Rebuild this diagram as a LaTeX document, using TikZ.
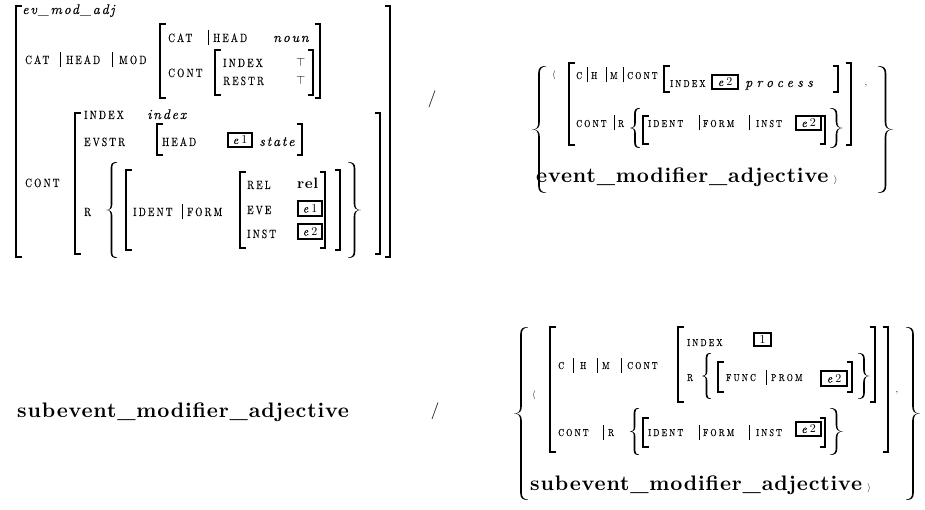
\documentclass[tikz,border=0pt]{standalone}
\usepackage{fontspec}
\newfontfamily\avmsc{lmroman10-regular.otf}[FakeStretch=0.78, LetterSpace=18, FakeBold=0.3]
\newfontfamily\avmscw{lmroman10-regular.otf}[FakeStretch=0.8, LetterSpace=22, FakeBold=0.3]
\newfontfamily\avmit{lmroman10-italic.otf}[LetterSpace=12, FakeBold=0.2]
\newfontfamily\avmitw{lmroman10-italic.otf}[LetterSpace=30, FakeBold=0.2]
\newfontfamily\avmbf{lmroman10-bold.otf}[LetterSpace=4]
\newfontfamily\avmrm{lmroman10-regular.otf}

% square brackets: x, top, bottom
\newcommand\lbk[3]{\draw[brk] (#1+5.5,#2) -- (#1,#2) -- (#1,#3) -- (#1+5.5,#3);}
\newcommand\rbk[3]{\draw[brk] (#1-5.5,#2) -- (#1,#2) -- (#1,#3) -- (#1-5.5,#3);}
% path separator bar: x, baseline
\newcommand\pbar[2]{\draw[pbar] (#1,#2+3.5) -- (#1,#2-11.5);}
% filled curly brace in a local box of width #1 and height #2 (y grows downward)
\newcommand\bracefill[2]{%
  \fill (#1,0) .. controls (0.62*#1,0) and (0.5*#1-0.8,0.12*#1) .. (0.5*#1-0.8,0.5*#1)
    -- (0.5*#1-0.8,#2/2-0.5*#1)
    .. controls (0.5*#1-0.8,#2/2-0.12*#1) and (0.3*#1,#2/2) .. (0,#2/2)
    .. controls (0.3*#1,#2/2) and (0.5*#1-0.8,#2/2+0.12*#1) .. (0.5*#1-0.8,#2/2+0.5*#1)
    -- (0.5*#1-0.8,#2-0.5*#1)
    .. controls (0.5*#1-0.8,#2-0.12*#1) and (0.62*#1,#2) .. (#1,#2)
    -- (#1,#2-0.45)
    .. controls (0.72*#1,#2-0.45) and (0.5*#1+0.8,#2-0.2*#1) .. (0.5*#1+0.8,#2-0.5*#1)
    -- (0.5*#1+0.8,#2/2+0.5*#1)
    .. controls (0.5*#1+0.8,#2/2+0.15*#1) and (0.4*#1,#2/2) .. (0.04*#1,#2/2)
    .. controls (0.4*#1,#2/2) and (0.5*#1+0.8,#2/2-0.15*#1) .. (0.5*#1+0.8,#2/2-0.5*#1)
    -- (0.5*#1+0.8,0.5*#1)
    .. controls (0.5*#1+0.8,0.2*#1) and (0.72*#1,0.45) .. (#1,0.45) -- cycle;}
% braces: left x, top, bottom, width
\newcommand\avmlbrace[4]{\pgfmathsetmacro\brH{#3-#2}%
  \begin{scope}[shift={(#1,#2)}]\bracefill{#4}{\brH}\end{scope}}
\newcommand\avmrbrace[4]{\pgfmathsetmacro\brH{#3-#2}%
  \begin{scope}[shift={(#1+#4,#2)},xscale=-1]\bracefill{#4}{\brH}\end{scope}}
% boxed tags
\newcommand\etag[1]{{\avmit e}\hspace{3pt}{\avmrm #1}}

\tikzset{
  brk/.style={line width=1.7pt},
  pbar/.style={line width=0.7pt},
  avmlab/.style={anchor=base west, inner sep=0pt, font=\avmsc\fontsize{12}{12}\selectfont},
  avmlabs/.style={anchor=base west, inner sep=0pt, font=\avmscw\fontsize{10}{10}\selectfont},
  avmtype/.style={anchor=base west, inner sep=0pt, font=\avmit\fontsize{14}{14}\selectfont},
  avmtypew/.style={anchor=base west, inner sep=0pt, font=\avmitw\fontsize{14}{14}\selectfont},
  avmtop/.style={anchor=base west, inner sep=0pt, font=\fontsize{11.5}{11.5}\selectfont},
  avmbold/.style={anchor=base west, inner sep=0pt, font=\avmbf\fontsize{21}{21}\selectfont},
  relbold/.style={anchor=base west, inner sep=0pt, font=\avmbf\fontsize{15}{15}\selectfont},
  angl/.style={inner sep=0pt, font=\fontsize{9.5}{9.5}\selectfont},
  tagbox/.style={draw, line width=1.9pt, inner sep=0pt, minimum width=#1,
    minimum height=14.3pt, font=\fontsize{12}{12}\selectfont},
  slash/.style={inner sep=0pt, font=\avmrm\fontsize{17}{17}\selectfont},
}

\begin{document}
\begin{tikzpicture}[x=1pt,y=-1pt]
\useasboundingbox (0,0) rectangle (925,510);
\fill[white] (0,0) rectangle (925,510);

% ===== ev_mod_adj =====
\lbk{16}{6}{257} \rbk{390}{6}{257}
\node[avmtype] (tl-type) at (22,14) {ev\_mod\_adj};
\node[avmlab] (tl-cat) at (25,64) {CAT}; \pbar{60}{64}
\node[avmlab] (tl-head) at (66,64) {HEAD}; \pbar{112}{64}
\node[avmlab] (tl-mod) at (119,64) {MOD};
\lbk{160}{24}{98} \rbk{320}{24}{98}
\node[avmlab] (m-cat) at (168,42) {CAT}; \pbar{208}{42}
\node[avmlab] (m-head) at (213,42) {HEAD};
\node[avmtype] (m-noun) at (273,42) {noun};
\node[avmlab] (m-cont) at (168,77) {CONT};
\lbk{215}{50}{95} \rbk{313}{50}{95}
\node[avmlab] (m-index) at (223,67) {INDEX};
\node[avmtop] (m-top1) at (296,67) {$\top$};
\node[avmlab] (m-restr) at (223,85) {RESTR};
\node[avmtop] (m-top2) at (296,85) {$\top$};

\node[avmlab] (tl-cont) at (25,187) {CONT};
\lbk{75}{113}{254} \rbk{380}{113}{254}
\node[avmlab] (c-index) at (84,119) {INDEX};
\node[avmtype] (c-indexv) at (147,119) {index};
\node[avmlab] (c-evstr) at (84,146) {EVSTR};
\lbk{157}{124}{155} \rbk{302}{124}{155}
\node[avmlab] (c-head) at (162,146) {HEAD};
\node[tagbox=24pt] (c-e1) at (240,140) {\etag1};
\node[avmtype] (c-state) at (259,146) {state};
\node[avmlab] (c-r) at (84,216) {R};
\avmlbrace{106}{162}{258}{11}
\lbk{126}{170}{250} \rbk{340}{170}{250}
\node[avmlab] (c-ident) at (133,216) {IDENT}; \pbar{182}{216}
\node[avmlab] (c-form) at (187,216) {FORM};
\lbk{240}{172}{248} \rbk{325}{172}{248}
\node[avmlab] (c-rel) at (247,189) {REL};
\node[relbold] (c-relv) at (297,189) {rel};
\node[avmlab] (c-eve) at (247,214) {EVE};
\node[tagbox=24pt] (c-eve1) at (310,208.5) {\etag1};
\node[avmlab] (c-inst) at (247,238) {INST};
\node[tagbox=24pt] (c-inst2) at (310,231.5) {\etag2};
\avmrbrace{348}{162}{258}{13}

\node[slash] (slash1) at (432,99) {/};

% ===== event_modifier_adjective =====
\avmlbrace{532}{66}{193}{14}
\node[angl] (er-lang) at (554,75) {$\langle$};
\lbk{569}{63}{145} \rbk{851}{63}{145}
\node[avmlabs] (er-c) at (576,79) {C}; \pbar{587}{79}
\node[avmlabs] (er-h) at (591,79) {H}; \pbar{606}{79}
\node[avmlabs] (er-m) at (610,79) {M}; \pbar{623}{79}
\node[avmlabs] (er-cont) at (627,79) {CONT};
\lbk{664}{66}{92} \rbk{838}{66}{92}
\node[avmlabs] (er-index) at (670,87) {INDEX};
\node[tagbox=26pt] (er-e2a) at (725,82) {\etag2};
\node[avmtypew] (er-proc) at (745,87) {process};
\node[avmlabs] (er-cont2) at (576,127) {CONT}; \pbar{614}{127}
\node[avmlabs] (er-r) at (618,127) {R};
\avmlbrace{630}{108}{148}{10}
\lbk{643}{116}{144}
\node[avmlabs] (er-ident) at (648,127) {IDENT}; \pbar{699}{127}
\node[avmlabs] (er-form) at (703,127) {FORM}; \pbar{749}{127}
\node[avmlabs] (er-inst) at (756,127) {INST};
\node[tagbox=25pt] (er-e2b) at (808.5,123) {\etag2};
\rbk{825}{116}{144}
\avmrbrace{830}{108}{148}{13}
\node[angl] (er-comma) at (866,86) {,};
\avmrbrace{878}{66}{193}{15}
\node[avmbold] (er-name) at (536,183) {event\_modifier\_adjective};
\node[angl, anchor=base west] (er-rang) at ([xshift=5pt]er-name.base east) {$\rangle$};

% ===== subevent_modifier_adjective =====
\node[avmbold] (sl-name) at (17,417) {subevent\_modifier\_adjective};
\node[slash] (slash2) at (435,411) {/};

\avmlbrace{514}{327}{500}{14}
\node[angl] (sr-lang) at (534,395) {$\langle$};
\lbk{550}{327}{452} \rbk{888}{327}{452}
\node[avmlabs] (sr-c) at (558,369) {C}; \pbar{573}{369}
\node[avmlabs] (sr-h) at (580,369) {H}; \pbar{597}{369}
\node[avmlabs] (sr-m) at (602,369) {M}; \pbar{621}{369}
\node[avmlabs] (sr-cont) at (627,369) {CONT};
\lbk{678}{327}{402} \rbk{875}{327}{402}
\node[avmlabs] (sr-index) at (687,346) {INDEX};
\node[tagbox=17pt, minimum height=13pt] (sr-tag1) at (762.5,339.5) {\avmrm 1};
\node[avmlabs] (sr-r) at (687,381) {R};
\avmlbrace{702}{353}{399}{9}
\lbk{718}{362}{392}
\node[avmlabs] (sr-func) at (726,381) {FUNC}; \pbar{766}{381}
\node[avmlabs] (sr-prom) at (771,381) {PROM};
\node[tagbox=26pt] (sr-e2a) at (834,378.5) {\etag2};
\rbk{852}{362}{392}
\avmrbrace{858}{353}{399}{12}
\node[avmlabs] (sr-cont2) at (558,436) {CONT}; \pbar{603}{436}
\node[avmlabs] (sr-r2) at (608,436) {R};
\avmlbrace{630}{408}{455}{9}
\lbk{643}{418}{447}
\node[avmlabs] (sr-ident) at (648,436) {IDENT}; \pbar{699}{436}
\node[avmlabs] (sr-form) at (703,436) {FORM}; \pbar{749}{436}
\node[avmlabs] (sr-inst) at (756,436) {INST};
\node[tagbox=25pt] (sr-e2b) at (808.5,429) {\etag2};
\rbk{825}{418}{447}
\avmrbrace{830}{408}{455}{13}
\node[angl] (sr-comma) at (897,393) {,};
\avmrbrace{906}{327}{500}{14}
\node[avmbold] (sr-name) at (530,490) {subevent\_modifier\_adjective};
\node[angl, anchor=base west] (sr-rang) at ([xshift=5pt]sr-name.base east) {$\rangle$};
\end{tikzpicture}
\end{document}
